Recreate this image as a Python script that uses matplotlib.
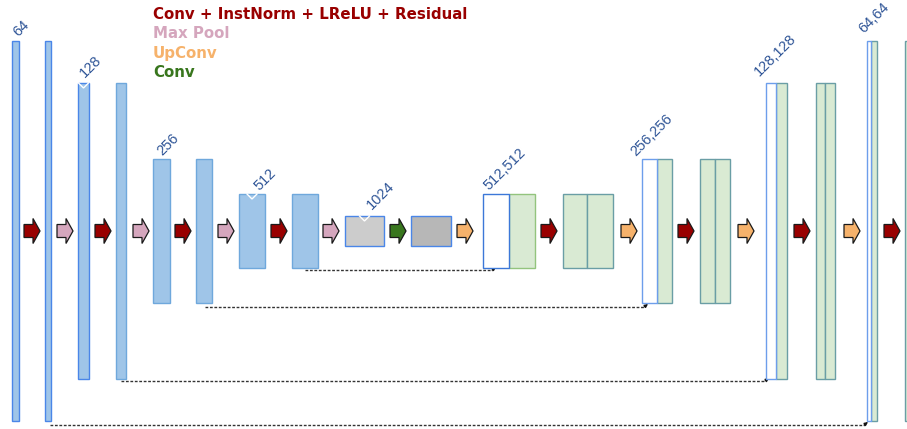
import matplotlib
matplotlib.use("Agg")
import matplotlib.pyplot as plt
from matplotlib.patches import Rectangle, Polygon

# ---------------- data ----------------
legend_labels = ["Conv + InstNorm + LReLU + Residual", "Max Pool", "UpConv", "Conv"]
legend_colors = ["#990000", "#d5a6bd", "#f6b26b", "#38761d"]
op_colors = {"conv": "#990000", "pool": "#d5a6bd", "up": "#f6b26b", "bconv": "#38761d"}

channel_labels = ["64", "128", "256", "512", "1024", "512,512", "256,256", "128,128", "64,64"]

ops = ["conv", "pool", "conv", "pool", "conv", "pool", "conv", "pool", "bconv",
       "up", "conv", "up", "conv", "up", "conv", "up", "conv"]

# ---------------- layout (pixel space) ----------------
arrow_x = [24, 57, 95, 133, 175, 218, 271, 323, 390, 457, 541, 621, 678, 738, 794, 844, 884]
arrow_y = 231

BLUE_F, BLUE_E, BLUE_E2 = "#9fc5e8", "#4a86e8", "#6fa8dc"
GREEN_F, TEAL_E = "#d9ead3", "#6a9ea5"

# (x0, x1, y0, y1, face, edge)
blocks = [
    (12, 19, 41, 421, BLUE_F, BLUE_E),
    (45, 51, 41, 421, BLUE_F, BLUE_E),
    (78, 89, 83, 379, BLUE_F, BLUE_E),
    (116, 126, 83, 379, BLUE_F, BLUE_E2),
    (153, 170, 159, 303, BLUE_F, BLUE_E2),
    (196, 212, 159, 303, BLUE_F, BLUE_E2),
    (239, 265, 194, 268, BLUE_F, BLUE_E2),
    (292, 318, 194, 268, BLUE_F, BLUE_E2),
    (345, 384, 216, 246, "#cccccc", "#4a86e8"),
    (411, 451, 216, 246, "#b7b7b7", "#4a86e8"),
    (509, 535, 194, 268, GREEN_F, "#93c47d"),
    (483, 509, 194, 268, "white", "#3c78d8"),
    (563, 587, 194, 268, GREEN_F, TEAL_E),
    (587, 613, 194, 268, GREEN_F, TEAL_E),
    (657, 672, 159, 303, GREEN_F, TEAL_E),
    (642, 657, 159, 303, "white", "#6d9eeb"),
    (700, 715, 159, 303, GREEN_F, TEAL_E),
    (715, 730, 159, 303, GREEN_F, TEAL_E),
    (776, 787, 83, 379, GREEN_F, TEAL_E),
    (766, 776, 83, 379, "white", "#6d9eeb"),
    (816, 825, 83, 379, GREEN_F, TEAL_E),
    (825, 835, 83, 379, GREEN_F, TEAL_E),
    (871, 877, 41, 421, GREEN_F, TEAL_E),
    (867, 871, 41, 421, "white", "#6d9eeb"),
    (905, 915, 41, 421, GREEN_F, TEAL_E),
]

# white notch marks on top of some blocks (center x, top y)
notches = [(83.5, 83), (252, 194), (364.5, 216)]

label_pos = [(18, 37), (85, 78), (162, 156), (259, 191), (372, 210),
             (489, 191), (636, 157), (759, 77), (864, 34)]

# skip connections: (x_start, x_end, y)
skips = [(305, 496, 270), (205, 648, 307), (121, 769, 381), (50, 868, 425)]

legend_x = 153
legend_baselines = [19, 38.5, 58, 77]

# ---------------- draw ----------------
W, H = 907, 429
fig = plt.figure(figsize=(W / 100, H / 100), dpi=100)
ax = fig.add_axes([0, 0, 1, 1])
ax.set_xlim(0, W)
ax.set_ylim(H, 0)
ax.axis("off")

for x0, x1, y0, y1, fc, ec in blocks:
    ax.add_patch(Rectangle((x0, y0), x1 - x0, y1 - y0, facecolor=fc,
                           edgecolor=ec, linewidth=1.0, zorder=2))

for cx, ty in notches:
    ax.plot([cx - 5, cx, cx + 5], [ty, ty + 5, ty], color="white", lw=1.0,
            zorder=3, solid_joinstyle="miter")


def block_arrow(x0, yc, color):
    w, h, sh, hl = 16, 25, 13, 7
    pts = [(x0, yc - sh / 2), (x0 + w - hl, yc - sh / 2), (x0 + w - hl, yc - h / 2),
           (x0 + w, yc), (x0 + w - hl, yc + h / 2), (x0 + w - hl, yc + sh / 2),
           (x0, yc + sh / 2)]
    ax.add_patch(Polygon(pts, closed=True, facecolor=color, edgecolor="#1a1a1a",
                         linewidth=0.9, joinstyle="miter", zorder=4))


for x, op in zip(arrow_x, ops):
    block_arrow(x, arrow_y, op_colors[op])

for txt, (x, y) in zip(channel_labels, label_pos):
    ax.text(x, y, txt, rotation=45, rotation_mode="anchor", ha="left",
            va="baseline", fontsize=10.5, color="#2f5597",
            family="Liberation Sans", zorder=5)

for xs, xe, y in skips:
    ax.plot([xs, xe - 3], [y, y], color="#333333", lw=1.0,
            linestyle=(0, (2, 1.2)), zorder=1)
    ax.annotate("", xy=(xe, y - 3), xytext=(xe - 4, y),
                arrowprops=dict(arrowstyle="-|>", color="#111111", lw=0.8,
                                mutation_scale=5, shrinkA=0, shrinkB=0),
                zorder=1)

for lab, col, yb in zip(legend_labels, legend_colors, legend_baselines):
    ax.text(legend_x, yb, lab, color=col, fontsize=10.8, fontweight="bold",
            family="DejaVu Sans", ha="left", va="baseline", zorder=5)

fig.savefig("out.png", dpi=100)
